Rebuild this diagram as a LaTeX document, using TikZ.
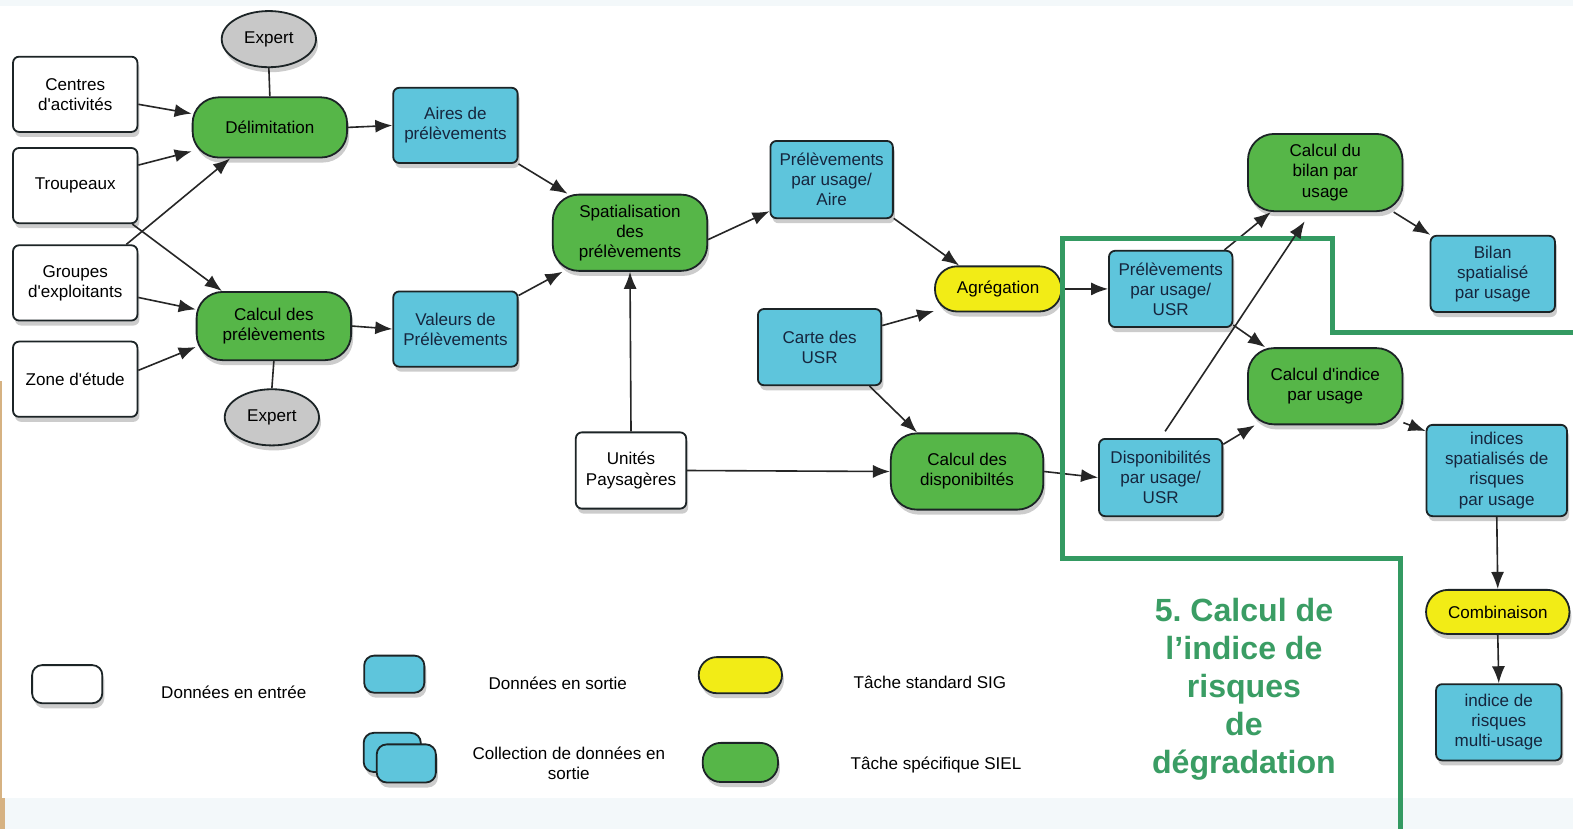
\documentclass[tikz,border=0pt]{standalone}
\usepackage{fontspec}
\setmainfont{Liberation Sans}
\usetikzlibrary{shapes.geometric,arrows.meta,shadows}

\definecolor{edgec}{RGB}{28,36,38}
\definecolor{greenc}{RGB}{86,182,72}
\definecolor{bluec}{RGB}{94,197,220}
\definecolor{yellowc}{RGB}{242,236,22}
\definecolor{grayc}{RGB}{200,200,200}
\definecolor{navyc}{RGB}{22,38,62}
\definecolor{framec}{RGB}{52,154,98}
\definecolor{titlec}{RGB}{58,157,100}
\definecolor{bandc}{RGB}{243,248,250}
\definecolor{tanc}{RGB}{214,178,130}

\tikzset{
  base/.style={draw=edgec, line width=0.9pt, align=center, inner sep=1pt,
    drop shadow={opacity=0.4, shadow xshift=1pt, shadow yshift=-2.5pt}},
  inbox/.style={base, fill=white, rounded corners=3pt, minimum width=62pt, minimum height=37.5pt},
  outbox/.style={base, fill=bluec, rounded corners=3pt, text=navyc},
  task/.style={base, fill=greenc, rounded corners=13pt},
  gis/.style={base, fill=yellowc, rounded corners=11pt},
  expert/.style={base, ellipse, fill=grayc, minimum width=47pt, minimum height=28pt},
  flow/.style={line width=0.8pt, draw=black!85, -{Latex[length=8.5pt,width=6.5pt]}},
  link/.style={line width=0.8pt, draw=black!85},
  legtext/.style={align=center, inner sep=0pt},
  frame/.style={draw=framec, line width=2.5pt, line join=miter}
}

\newcommand{\apos}{\textquotesingle}

\begin{document}
\frenchspacing
\begin{tikzpicture}[x=0.5pt, y=-0.5pt, font=\fontsize{8.5}{10}\selectfont]
  % canvas
  \useasboundingbox (0,0) rectangle (1568,826);
  \fill[white] (0,0) rectangle (1568,826);
  \fill[bandc] (0,0) rectangle (1568,6);
  \fill[bandc] (0,795) rectangle (1568,826);
  \fill[tanc] (0,380) rectangle (2,826);
  \fill[tanc] (0,795) rectangle (5,826);

  % experts
  \node[expert] (exp1) at (268,39) {Expert};
  \node[expert] (exp2) at (271,416) {Expert};

  % input data
  \node[inbox] (cent)  at (75,94)  {Centres\\d\apos activités};
  \node[inbox] (troup) at (75,185) {Troupeaux};
  \node[inbox] (grp)   at (75,282) {Groupes\\d\apos exploitants};
  \node[inbox] (zone)  at (75,378) {Zone d\apos étude};
  \node[inbox, minimum width=55pt, minimum height=38pt] (unites) at (629,469) {Unités\\Paysagères};

  % tasks
  \node[task, minimum width=77pt, minimum height=30pt] (delim) at (269,127) {Délimitation};
  \node[task, minimum width=77pt, minimum height=34pt] (calcp) at (273,325) {Calcul des\\prélèvements};
  \node[task, minimum width=77pt, minimum height=38pt] (spat) at (628,232) {Spatialisation\\des\\prélèvements};
  \node[task, minimum width=76pt, minimum height=38pt] (calcd) at (964,470) {Calcul des\\disponibiltés};
  \node[task, minimum width=77pt, minimum height=38.5pt] (bilan) at (1321,172) {Calcul du\\bilan par\\usage};
  \node[task, minimum width=77pt, minimum height=38pt] (indice) at (1321,385) {Calcul d\apos indice\\par usage};
  \node[gis, minimum width=63pt, minimum height=22.5pt] (agreg) at (995,288) {Agrégation};
  \node[gis, minimum width=71.5pt, minimum height=22pt] (comb) at (1493,610) {Combinaison};

  % output data
  \node[outbox, minimum width=62pt, minimum height=37.5pt] (aires) at (454,125) {Aires de\\prélèvements};
  \node[outbox, minimum width=62pt, minimum height=37.5pt] (vals) at (454,328) {Valeurs de\\Prélèvements};
  \node[outbox, minimum width=61pt, minimum height=38.5pt] (prelaire) at (829,179) {Prélèvements\\par usage/\\Aire};
  \node[outbox, minimum width=61.5pt, minimum height=38pt] (carte) at (817,346) {Carte des\\USR};
  \node[outbox, minimum width=61.5pt, minimum height=38pt] (prelusr) at (1167,288) {Prélèvements\\par usage/\\USR};
  \node[outbox, minimum width=61.5pt, minimum height=38.5pt] (dispusr) at (1157,476) {Disponibilités\\par usage/\\USR};
  \node[outbox, minimum width=62pt, minimum height=38pt] (bilsp) at (1488,273) {Bilan\\spatialisé\\par usage};
  \node[outbox, minimum width=70pt, minimum height=45.5pt] (indsp) at (1492,469) {indices\\spatialisés de\\risques\\par usage};
  \node[outbox, minimum width=62.5pt, minimum height=38pt] (multi) at (1494,720) {indice de\\risques\\multi-usage};

  % connectors
  \draw[link] (exp1.south) -- (delim.north);
  \draw[link] (calcp.south) -- (exp2.north);
  \draw[flow] (cent.-9) -- (delim.170);
  \draw[flow] (troup.18) -- (delim.197);
  \draw[flow] (grp.37) -- (delim.218);
  \draw[flow] (troup.-34) -- (calcp.146);
  \draw[flow] (grp.-13) -- (calcp.168);
  \draw[flow] (zone.8) -- (calcp.195);
  \draw[flow] (delim.east) -- (aires.west);
  \draw[flow] (calcp.east) -- (vals.west);
  \draw[flow] (aires.south east) -- (spat.148);
  \draw[flow] (vals.28) -- (spat.210);
  \draw[flow] (unites.north) -- (spat.south);
  \draw[flow] (unites.east) -- (calcd.west);
  \draw[flow] (spat.-5) -- (prelaire.207);
  \draw[flow] (prelaire.-32) -- (agreg.149);
  \draw[flow] (carte.19) -- (agreg.199);
  \draw[flow] (carte.-38) -- (calcd.142);
  \draw[flow] (agreg.east) -- (prelusr.west);
  \draw[flow] (calcd.east) -- (dispusr.west);
  \draw[flow] (prelusr.36) -- (bilan.216);
  \draw[flow] (prelusr.-30) -- (indice.147);
  \draw[flow] (dispusr.28) -- (indice.209);
  \draw[flow] (bilan.-30) -- (bilsp.148);
  \draw[flow] (indice.-25) -- (indsp.151);
  \draw[flow] (indsp.south) -- (comb.north);
  \draw[flow] (comb.south) -- (multi.north);

  % highlighted stage outline
  \draw[frame] (1570,331) -- (1328,331) -- (1328,238) -- (1059,238) -- (1059,557) -- (1396,557) -- (1396,828);
  \draw[flow] (dispusr.north) -- (bilan.250) [shorten <=4pt, shorten >=5.5pt];

  \node[text=titlec, font=\fontsize{16}{19}\selectfont\bfseries, align=center] (title) at (1240,687)
    {5. Calcul de\\l’indice de\\risques\\de\\dégradation};

  % legend
  \node[base, fill=white, rounded corners=5pt, minimum width=35pt, minimum height=19pt] (lg1) at (67,682) {};
  \node[legtext] (lt1) at (233,690) {Données en entrée};
  \node[base, fill=bluec, rounded corners=5pt, minimum width=30pt, minimum height=18.5pt] (lg2) at (393,672) {};
  \node[legtext] (lt2) at (556,681) {Données en sortie};
  \node[base, fill=bluec, rounded corners=5pt, minimum width=28.5pt, minimum height=19.5pt] (lg3a) at (391,750) {};
  \node[base, fill=bluec, rounded corners=5pt, minimum width=29.5pt, minimum height=19pt] (lg3b) at (405,761) {};
  \node[legtext] (lt3) at (567,761) {Collection de données en\\sortie};
  \node[base, fill=yellowc, rounded corners=9pt, minimum width=41.5pt, minimum height=18pt] (lg4) at (738,673) {};
  \node[legtext] (lt4) at (927,680) {Tâche standard SIG};
  \node[base, fill=greenc, rounded corners=9pt, minimum width=37.5pt, minimum height=19.5pt] (lg5) at (738,760) {};
  \node[legtext] (lt5) at (933,763) {Tâche spécifique SIEL};
\end{tikzpicture}
\end{document}
